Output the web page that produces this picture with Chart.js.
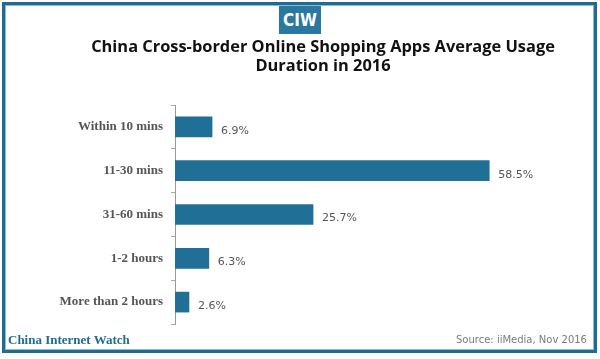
<!DOCTYPE html>
<html>
<head>
<meta charset="utf-8">
<script src="https://cdn.jsdelivr.net/npm/chart.js@4.4.1/dist/chart.umd.min.js"></script>
<style>
  html, body { margin: 0; padding: 0; background: #fff; }
  #wrap { position: relative; width: 600px; height: 359px; overflow: hidden; background: #fff; }
  #frame { position: absolute; left: 2px; top: 2px; width: 595px; height: 351px; box-sizing: border-box;
           border: 3px solid #1f6c93; box-shadow: inset 0 0 0 1px #8dbad5; pointer-events: none; }
  #logo { position: absolute; left: 279px; top: 6px; width: 42px; height: 28px; background: #2a77a0;
          color: #fff; font: bold 17px "Liberation Sans Narrow", "DejaVu Sans Condensed", sans-serif;
          text-align: center; line-height: 28px; }
  #title { position: absolute; left: 73px; width: 500px; top: 36px; text-align: center; color: #111;
           font: bold 16.4px "Open Sans", sans-serif; line-height: 19px; white-space: nowrap; }
  #title div { width: 500px; text-align: center; }
  #brand { position: absolute; left: 8px; top: 332px; color: #1f6c93;
           font: bold 13px "Liberation Serif", serif; }
  #source { position: absolute; right: 13px; top: 334px; color: #7a7a7a;
            font: 10px "DejaVu Sans", sans-serif; }
  canvas { position: absolute; left: 0; top: 0; }
</style>
</head>
<body>
<div id="wrap">
  <canvas id="c" width="600" height="359"></canvas>
  <div id="frame"></div>
  <div id="logo">CIW</div>
  <div id="title"></div>
  <div id="brand">China Internet Watch</div>
  <div id="source">Source: iiMedia, Nov 2016</div>
</div>
<script>
const categories = ["Within 10 mins", "11-30 mins", "31-60 mins", "1-2 hours", "More than 2 hours"];
const shares = [6.9, 58.5, 25.7, 6.3, 2.6];
const titleLines = ["China Cross-border Online Shopping Apps Average Usage", "Duration in 2016"];

const titleEl = document.getElementById('title');
titleLines.forEach(t => { const d = document.createElement('div'); d.textContent = t; titleEl.appendChild(d); });

const valueLabels = {
  id: 'valueLabels',
  afterDatasetsDraw(chart) {
    const ctx = chart.ctx;
    const meta = chart.getDatasetMeta(0);
    ctx.save();
    ctx.font = '11px "DejaVu Sans", sans-serif';
    ctx.fillStyle = '#555';
    ctx.textAlign = 'left';
    ctx.textBaseline = 'middle';
    meta.data.forEach((bar, i) => {
      ctx.fillText(shares[i].toFixed(1) + '%', bar.x + 9, bar.y + 4);
    });
    ctx.restore();
  }
};

new Chart(document.getElementById('c'), {
  type: 'bar',
  data: {
    labels: categories,
    datasets: [{
      data: shares,
      backgroundColor: '#1f6f97',
      borderWidth: 0,
      barThickness: 20
    }]
  },
  options: {
    indexAxis: 'y',
    responsive: false,
    animation: false,
    layout: { padding: { left: 0, right: 49, top: 105, bottom: 35 } },
    plugins: {
      legend: { display: false },
      tooltip: { enabled: false },
      title: { display: false }
    },
    scales: {
      x: { display: false, min: 0, max: 70 },
      y: {
        afterFit(scale) { scale.width = 175; },
        grid: { drawOnChartArea: false, tickLength: 4, color: '#aaa', offset: true },
        border: { color: '#999', width: 1 },
        ticks: {
          color: '#555',
          padding: 8,
          font: { family: '"Liberation Serif", serif', size: 13, weight: 'bold' }
        }
      }
    }
  },
  plugins: [valueLabels]
});
</script>
</body>
</html>
